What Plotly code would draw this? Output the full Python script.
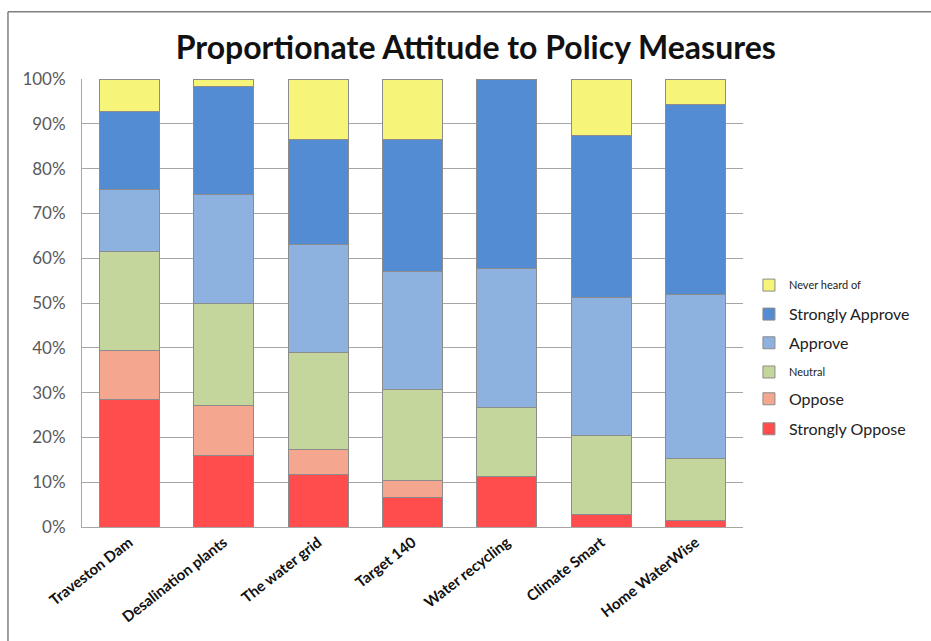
import plotly.graph_objects as go

categories = ["Traveston Dam", "Desalination plants", "The water grid", "Target 140",
              "Water recycling", "Climate Smart", "Home WaterWise"]

strongly_oppose = [28.5, 15.9, 11.7, 6.5, 11.2, 2.8, 1.5]
oppose = [11.0, 11.3, 5.6, 3.8, 0.0, 0.0, 0.0]
neutral = [21.9, 22.7, 21.6, 20.5, 15.5, 17.7, 13.8]
approve = [14.0, 24.3, 24.2, 26.2, 30.9, 30.7, 36.5]
strongly_approve = [17.3, 24.2, 23.5, 29.6, 42.4, 36.1, 42.5]
never_heard = [7.3, 1.6, 13.4, 13.4, 0.0, 12.7, 5.7]

y_tick_values = list(range(0, 101, 10))
y_tick_labels = [f"{v}%" for v in y_tick_values]

series = [
    ("Strongly Oppose", strongly_oppose, "#FF4D4D", 16),
    ("Oppose", oppose, "#F5A68F", 16),
    ("Neutral", neutral, "#C4D69B", 11),
    ("Approve", approve, "#8EB2E0", 16),
    ("Strongly Approve", strongly_approve, "#538CD3", 16),
    ("Never heard of", never_heard, "#F6F57A", 11),
]
legend_y = [0.219, 0.286, 0.346, 0.411, 0.475, 0.540]

fig = go.Figure()
layout_legends = {}
for i, (name, vals, color, fsize) in enumerate(series):
    lname = "legend" if i == 0 else f"legend{i+1}"
    fig.add_trace(go.Bar(
        x=categories, y=vals, name=name,
        marker=dict(color=color, line=dict(color="#8C8C8C", width=1)),
        legend=lname, showlegend=True,
    ))
    layout_legends[lname] = dict(
        x=1.009, xanchor="left", y=legend_y[i], yanchor="middle",
        font=dict(family="Lato, Open Sans, sans-serif", size=fsize, color="#222222"),
        bgcolor="rgba(0,0,0,0)", borderwidth=0,
    )

fig.update_layout(
    barmode="stack",
    bargap=0.365,
    showlegend=True,
    width=931, height=641,
    margin=dict(l=82, r=188, t=79, b=114),
    paper_bgcolor="white", plot_bgcolor="white",
    title=dict(text="<b>Proportionate Attitude to Policy Measures</b>",
               x=0.511, xref="container", xanchor="center",
               y=0.925, yref="container", yanchor="middle",
               font=dict(family="Lato, Open Sans, sans-serif", size=32, color="#111111")),
    xaxis=dict(tickangle=-38, showgrid=False, showline=True, linecolor="#A6A6A6",
               tickfont=dict(family="Lato, Open Sans, sans-serif", size=15, color="#111111", weight="bold")),
    yaxis=dict(range=[0, 100], tickmode="array", tickvals=y_tick_values, ticktext=y_tick_labels,
               showgrid=True, gridcolor="#A6A6A6", gridwidth=1,
               showline=True, linecolor="#A6A6A6", ticklabelstandoff=12,
               tickfont=dict(family="Lato, Open Sans, sans-serif", size=17, color="#595959")),
    **layout_legends,
)

fig.add_shape(type="line", xref="paper", yref="paper", x0=-0.112, x1=-0.112, y0=1.15, y1=-0.3,
              line=dict(color="#7F7F7F", width=1.5))
fig.add_shape(type="line", xref="paper", yref="paper", x0=-0.112, x1=1.3, y0=1.15, y1=1.15,
              line=dict(color="#7F7F7F", width=1.5))

fig.write_html("out.html")
